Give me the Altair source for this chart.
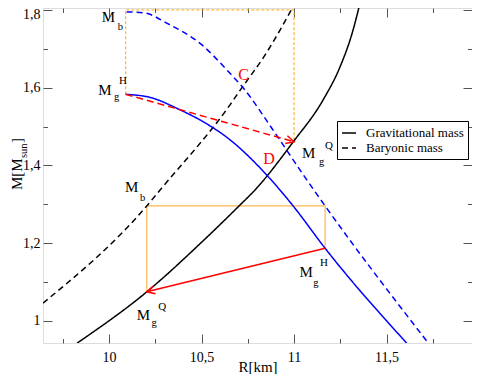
import math
import altair as alt
import pandas as pd

FONT = "Liberation Serif"
W, H = 429, 335
X_DOM = [9.643, 11.962]
Y_DOM = [0.9434, 1.805]

# ---------------- data ----------------
# quark branch, gravitational mass (black solid)
qg_R = [9.827, 10.204, 10.508, 10.703, 10.789, 10.996, 11.157, 11.249, 11.314, 11.361]
qg_M = [0.943, 1.075, 1.206, 1.296, 1.337, 1.461, 1.5685, 1.654, 1.740, 1.826]
# quark branch, baryonic mass (black dashed)
qb_R = [9.643, 10.204, 10.276, 10.654, 10.708, 10.843, 11.015]
qb_M = [1.046, 1.296, 1.337, 1.556, 1.593, 1.684, 1.826]
# hadronic branch, gravitational mass (blue solid)
hg_R = [10.090, 10.222, 10.384, 10.492, 10.654, 10.852, 10.995, 11.168, 11.609]
hg_M = [1.583, 1.575, 1.543, 1.517, 1.466, 1.3756, 1.296, 1.187, 0.943]
# hadronic branch, baryonic mass (blue dashed)
hb_R = [10.095, 10.195, 10.312, 10.492, 10.654, 10.726, 10.881, 11.050, 11.168, 11.726]
hb_M = [1.795, 1.792, 1.766, 1.714, 1.637, 1.599, 1.495, 1.376, 1.296, 0.943]

# orange guide lines
os_R = [10.204, 10.204, 11.168, 11.168]
os_M = [1.075, 1.296, 1.296, 1.187]
od_R = [10.090, 10.090, 11.0, 11.0]
od_M = [1.583, 1.800, 1.800, 1.461]

# red arrows: [start, end]
ra_solid_R = [11.168, 10.204]
ra_solid_M = [1.187, 1.075]
ra_dash_R = [10.090, 11.0]
ra_dash_M = [1.583, 1.461]

# annotations (data coordinates of the text baseline start)
big_txt = ["M", "M", "M", "M", "M", "M"]
big_R = [9.961, 9.942, 11.043, 10.086, 10.150, 11.029]
big_M = [1.769, 1.581, 1.419, 1.333, 1.003, 1.112]
sub_txt = ["b", "g", "g", "b", "g", "g"]
sub_R = [10.047, 10.027, 11.135, 10.168, 10.230, 11.104]
sub_M = [1.749, 1.568, 1.401, 1.309, 0.987, 1.090]
sup_txt = ["H", "Q", "Q", "H"]
sup_R = [10.054, 11.168, 10.266, 11.141]
sup_M = [1.610, 1.443, 1.028, 1.142]
red_txt = ["C", "D"]
red_R = [10.699, 10.834]
red_M = [1.620, 1.403]

x_major = [10, 10.5, 11, 11.5]
x_minor = [9.75, 10.25, 10.75, 11.25, 11.75]
y_major = [1, 1.2, 1.4, 1.6, 1.8]
y_minor = [1.1, 1.3, 1.5, 1.7]

# ---------------- build tables ----------------
rows = []
for name, kind, Rs, Ms in [
    ("q_grav", "Gravitational mass", qg_R, qg_M),
    ("q_bary", "Baryonic mass", qb_R, qb_M),
    ("h_grav", "Gravitational mass", hg_R, hg_M),
    ("h_bary", "Baryonic mass", hb_R, hb_M),
]:
    for i, (r, m) in enumerate(zip(Rs, Ms)):
        rows.append(dict(curve=name, kind=kind, R=r, M=m, i=i))
df_curves = pd.DataFrame(rows)


def path_df(Rs, Ms):
    return pd.DataFrame({"R": Rs, "M": Ms, "i": list(range(len(Rs)))})


xs = alt.Scale(domain=X_DOM, nice=False, zero=False)
ys = alt.Scale(domain=Y_DOM, nice=False, zero=False)
X = alt.X("R:Q", scale=xs, axis=None)
Y = alt.Y("M:Q", scale=ys, axis=None)

kx = W / (X_DOM[1] - X_DOM[0])
ky = H / (Y_DOM[1] - Y_DOM[0])


def head_angle(Rs, Ms):
    dx = (Rs[1] - Rs[0]) * kx
    dy = -(Ms[1] - Ms[0]) * ky
    return math.degrees(math.atan2(dy, dx)) % 360


df_heads = pd.DataFrame({
    "R": [ra_solid_R[1], ra_dash_R[1]],
    "M": [ra_solid_M[1], ra_dash_M[1]],
    "ang": [head_angle(ra_solid_R, ra_solid_M), head_angle(ra_dash_R, ra_dash_M)],
})

curves = alt.Chart(df_curves).mark_line(clip=True, strokeWidth=1.5, interpolate="monotone").encode(
    x=X, y=Y,
    detail="curve:N",
    order="i:Q",
    color=alt.Color("curve:N", scale=alt.Scale(
        domain=["q_grav", "q_bary", "h_grav", "h_bary"],
        range=["#000000", "#000000", "#0000ff", "#0000ff"]), legend=None),
    strokeDash=alt.StrokeDash("kind:N", scale=alt.Scale(
        domain=["Gravitational mass", "Baryonic mass"], range=[[1, 0], [6, 4]]),
        legend=alt.Legend(title=None, orient="none", legendX=294, legendY=113,
                          symbolType="stroke", symbolSize=196, symbolStrokeWidth=1.5,
                          symbolStrokeColor="black", labelFont=FONT, labelFontSize=13,
                          labelColor="black", strokeColor="black", fillColor="white",
                          padding=4, rowPadding=-1, labelOffset=9, labelLimit=300,
                          cornerRadius=0)),
)

orange_solid = alt.Chart(path_df(os_R, os_M)).mark_line(color="#ffb84d", strokeWidth=1.2, clip=True).encode(
    x=X, y=Y, order="i:Q")
orange_dash = alt.Chart(path_df(od_R, od_M)).mark_line(color="#ffa500", strokeWidth=1, strokeDash=[3, 2], clip=True).encode(
    x=X, y=Y, order="i:Q")
red_solid = alt.Chart(path_df(ra_solid_R, ra_solid_M)).mark_line(color="#ff0000", strokeWidth=1.5).encode(
    x=X, y=Y, order="i:Q")
red_dash = alt.Chart(path_df(ra_dash_R, ra_dash_M)).mark_line(color="#ff0000", strokeWidth=1.5, strokeDash=[7, 4]).encode(
    x=X, y=Y, order="i:Q")
heads = alt.Chart(df_heads).mark_point(shape="M -1 -0.5 L 0 0 L -1 0.5", filled=False, color="#ff0000",
                                       strokeWidth=1.5, size=256, opacity=1).encode(
    x=X, y=Y, angle=alt.Angle("ang:Q", scale=None))


def text_layer(txt, Rs, Ms, size, color="black"):
    d = pd.DataFrame({"t": txt, "R": Rs, "M": Ms})
    return alt.Chart(d).mark_text(font=FONT, fontSize=size, color=color, align="left",
                                  baseline="alphabetic").encode(x=X, y=Y, text="t:N")


t_big = text_layer(big_txt, big_R, big_M, 15)
t_sub = text_layer(sub_txt, sub_R, sub_M, 10.5)
t_sup = text_layer(sup_txt, sup_R, sup_M, 11)
t_red = text_layer(red_txt, red_R, red_M, 16, "#ff0000")


# y-axis title with subscript (rotated text pieces)
def ytitle_piece(txt, size, px, py):
    return alt.Chart(pd.DataFrame({"t": [txt]})).mark_text(
        font=FONT, fontSize=size, angle=270, align="left", baseline="alphabetic", color="black"
    ).encode(x=alt.value(px), y=alt.value(py), text="t:N")


yt1 = ytitle_piece("M[M", 15, -21, 182)
yt2 = ytitle_piece("sun", 10.5, -16, 150)
yt3 = ytitle_piece("]", 15, -21, 135)

# axes: labels and inward ticks
dummy = pd.DataFrame({"R": [10.0], "M": [1.0]})
LABEL_EXPR = "replace(format(datum.value, '~g'), '.', ',')"

axis_labels = alt.Chart(dummy).mark_point(opacity=0).encode(
    x=alt.X("R:Q", scale=xs, axis=alt.Axis(
        orient="bottom", values=x_major, ticks=False, domain=False, grid=False,
        labelExpr=LABEL_EXPR, labelFont=FONT, labelFontSize=14, labelColor="black",
        labelPadding=7, title="R[km]", titleFont=FONT, titleFontSize=15,
        titleFontWeight="normal", titleColor="black", titleBaseline="alphabetic",
        titleY=28)),
    y=alt.Y("M:Q", scale=ys, axis=alt.Axis(
        orient="left", values=y_major, ticks=False, domain=False, grid=False,
        labelExpr=LABEL_EXPR, labelFont=FONT, labelFontSize=14, labelColor="black",
        labelPadding=3, title=None,
        labelOffset={"condition": {"test": "datum.value > 1.79", "value": 5}, "value": 0})),
)


def tick_layer(xo, yo, xoff, yoff, xv, yv, size):
    return alt.Chart(dummy).mark_point(opacity=0).encode(
        x=alt.X("R:Q", scale=xs, axis=alt.Axis(
            orient=xo, offset=xoff, values=xv, ticks=True, tickSize=size, tickColor="#555555",
            tickWidth=1, labels=False, domain=False, grid=False, title=None)),
        y=alt.Y("M:Q", scale=ys, axis=alt.Axis(
            orient=yo, offset=yoff, values=yv, ticks=True, tickSize=size, tickColor="#555555",
            tickWidth=1, labels=False, domain=False, grid=False, title=None)),
    )


ticks = [
    tick_layer("top", "right", -H, -W, x_major, y_major, 9),
    tick_layer("top", "right", -H, -W, x_minor, y_minor, 4.5),
    tick_layer("bottom", "left", -H, -W, x_major, y_major, 9),
    tick_layer("bottom", "left", -H, -W, x_minor, y_minor, 4.5),
]

chart = alt.layer(
    axis_labels, *ticks,
    orange_dash, orange_solid, curves, red_dash, red_solid, heads,
    t_big, t_sub, t_sup, t_red, yt1, yt2, yt3,
).resolve_axis(x="independent", y="independent").properties(
    width=W, height=H,
    autosize=alt.AutoSizeParams(type="none"),
    padding={"left": 35, "top": 0, "right": 0, "bottom": 31},
).configure_view(stroke="black", strokeWidth=1).configure(background="white")

chart.save("out.html", embed_options={"renderer": "svg", "actions": False})
